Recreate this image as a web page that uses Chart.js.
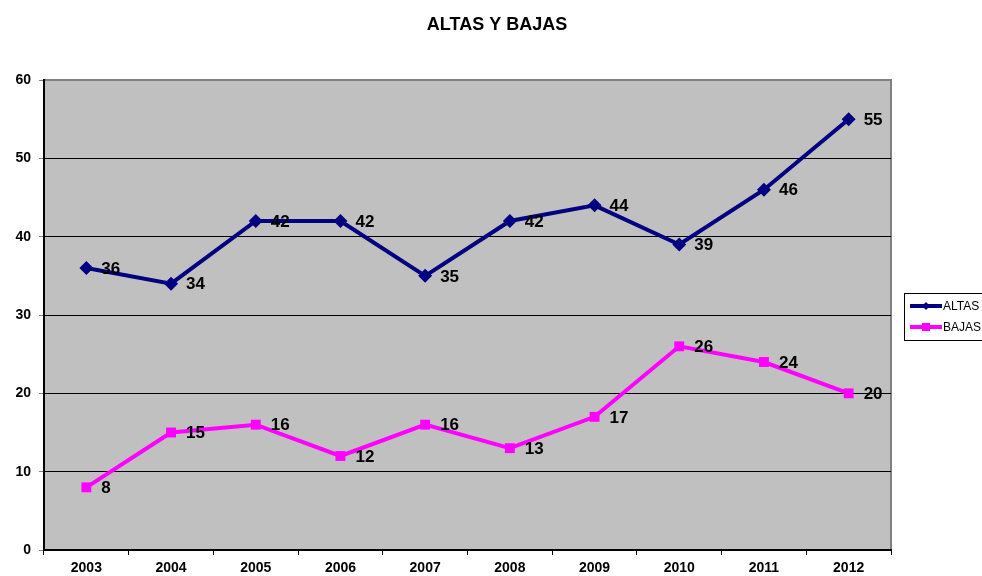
<!DOCTYPE html>
<html>
<head>
<meta charset="utf-8">
<script src="https://cdn.jsdelivr.net/npm/chart.js@4.4.1/dist/chart.umd.min.js"></script>
<style>
  html, body { margin: 0; padding: 0; background: #fff; }
  #wrap { width: 982px; height: 576px; }
</style>
</head>
<body>
<div id="wrap"><canvas id="mycanvas" width="982" height="576"></canvas></div>
<script>
var years = ["2003", "2004", "2005", "2006", "2007", "2008", "2009", "2010", "2011", "2012"];
var altas = [36, 34, 42, 42, 35, 42, 44, 39, 46, 55];
var bajas = [8, 15, 16, 12, 16, 13, 17, 26, 24, 20];
var yTicks = [0, 10, 20, 30, 40, 50, 60];
var titleText = 'ALTAS Y BAJAS';

// grey plot background, title
var plotBg = {
    id: 'plotBg',
    beforeDraw: function(chart) {
        var a = chart.chartArea, ctx = chart.ctx;
        ctx.save();
        ctx.fillStyle = '#c0c0c0';
        ctx.fillRect(a.left, a.top, a.right - a.left, a.bottom - a.top);
        ctx.strokeStyle = '#808080';
        ctx.lineWidth = 2;
        ctx.beginPath();
        ctx.moveTo(a.left, a.top);
        ctx.lineTo(a.right, a.top);
        ctx.lineTo(a.right, a.bottom);
        ctx.stroke();
        ctx.font = 'bold 18px "Liberation Sans", Arial, sans-serif';
        ctx.fillStyle = '#000';
        ctx.textAlign = 'center';
        ctx.textBaseline = 'middle';
        ctx.fillText(titleText, 497, 25);
        ctx.restore();
    }
};

// value labels next to each point
var valueLabels = {
    id: 'valueLabels',
    afterDatasetsDraw: function(chart) {
        var ctx = chart.ctx;
        ctx.save();
        ctx.font = 'bold 17px "Liberation Sans", Arial, sans-serif';
        ctx.fillStyle = '#000';
        ctx.textAlign = 'left';
        ctx.textBaseline = 'middle';
        chart.data.datasets.forEach(function(ds, i) {
            chart.getDatasetMeta(i).data.forEach(function(pt, j) {
                ctx.fillText(ds.data[j], pt.x + 15, pt.y + 1);
            });
        });
        ctx.restore();
    }
};

// boxed legend on the right
var boxLegend = {
    id: 'boxLegend',
    afterDraw: function(chart) {
        var ctx = chart.ctx;
        var x = 904, y = 293;
        ctx.save();
        ctx.fillStyle = '#fff';
        ctx.fillRect(x, y, 90, 47);
        ctx.strokeStyle = '#000';
        ctx.lineWidth = 1;
        ctx.strokeRect(x + 0.5, y + 0.5, 90, 47);
        ctx.font = '12px "Liberation Sans", Arial, sans-serif';
        ctx.textBaseline = 'middle';
        chart.data.datasets.forEach(function(ds, i) {
            var ly = y + 13 + i * 21;
            ctx.strokeStyle = ds.borderColor;
            ctx.lineWidth = 4;
            ctx.beginPath();
            ctx.moveTo(x + 6, ly);
            ctx.lineTo(x + 38, ly);
            ctx.stroke();
            ctx.fillStyle = ds.borderColor;
            if (i === 0) {
                ctx.beginPath();
                ctx.moveTo(x + 22, ly - 4);
                ctx.lineTo(x + 26, ly);
                ctx.lineTo(x + 22, ly + 4);
                ctx.lineTo(x + 18, ly);
                ctx.closePath();
                ctx.fill();
            } else {
                ctx.fillRect(x + 18, ly - 4, 8, 8);
            }
            ctx.fillStyle = '#000';
            ctx.fillText(ds.label, x + 39, ly + 1);
        });
        ctx.restore();
    }
};

var chartdata = {
    labels: years,
    datasets: [
        {
            label: 'ALTAS',
            data: altas,
            borderColor: '#000080',
            backgroundColor: '#000080',
            borderWidth: 4,
            pointStyle: 'rectRot',
            pointRadius: 7,
            pointBorderWidth: 0,
            tension: 0
        },
        {
            label: 'BAJAS',
            data: bajas,
            borderColor: '#ff00ff',
            backgroundColor: '#ff00ff',
            borderWidth: 4,
            pointStyle: 'rect',
            pointRadius: 7,
            pointBorderWidth: 0,
            tension: 0
        }
    ]
};

var ctx = document.getElementById('mycanvas');

var lineGraph = new Chart(ctx, {
    type: 'line',
    data: chartdata,
    options: {
        responsive: false,
        animation: false,
        layout: { padding: { left: 0, right: 91, top: 80, bottom: 0 } },
        plugins: {
            legend: { display: false },
            tooltip: { enabled: false },
            title: { display: false }
        },
        scales: {
            x: {
                offset: true,
                afterFit: function(scale) { scale.height = 26; },
                grid: {
                    offset: true,
                    drawOnChartArea: false,
                    color: '#000',
                    tickLength: 5
                },
                border: { color: '#000', width: 2 },
                ticks: {
                    color: '#000',
                    padding: 5,
                    maxRotation: 0,
                    font: { family: '"Liberation Sans", Arial, sans-serif', size: 14, weight: 'bold' }
                }
            },
            y: {
                min: 0,
                max: 60,
                afterFit: function(scale) { scale.width = 44; },
                afterBuildTicks: function(scale) {
                    scale.ticks = yTicks.map(function(v) { return { value: v }; });
                },
                grid: {
                    color: function(c) { return c.tick && c.tick.value === 60 ? 'rgba(0,0,0,0)' : '#000'; },
                    tickColor: '#808080',
                    tickLength: 5
                },
                border: { color: '#000', width: 2 },
                ticks: {
                    color: '#000',
                    padding: 8,
                    font: { family: '"Liberation Sans", Arial, sans-serif', size: 14, weight: 'bold' }
                }
            }
        }
    },
    plugins: [plotBg, valueLabels, boxLegend]
});
</script>
</body>
</html>
